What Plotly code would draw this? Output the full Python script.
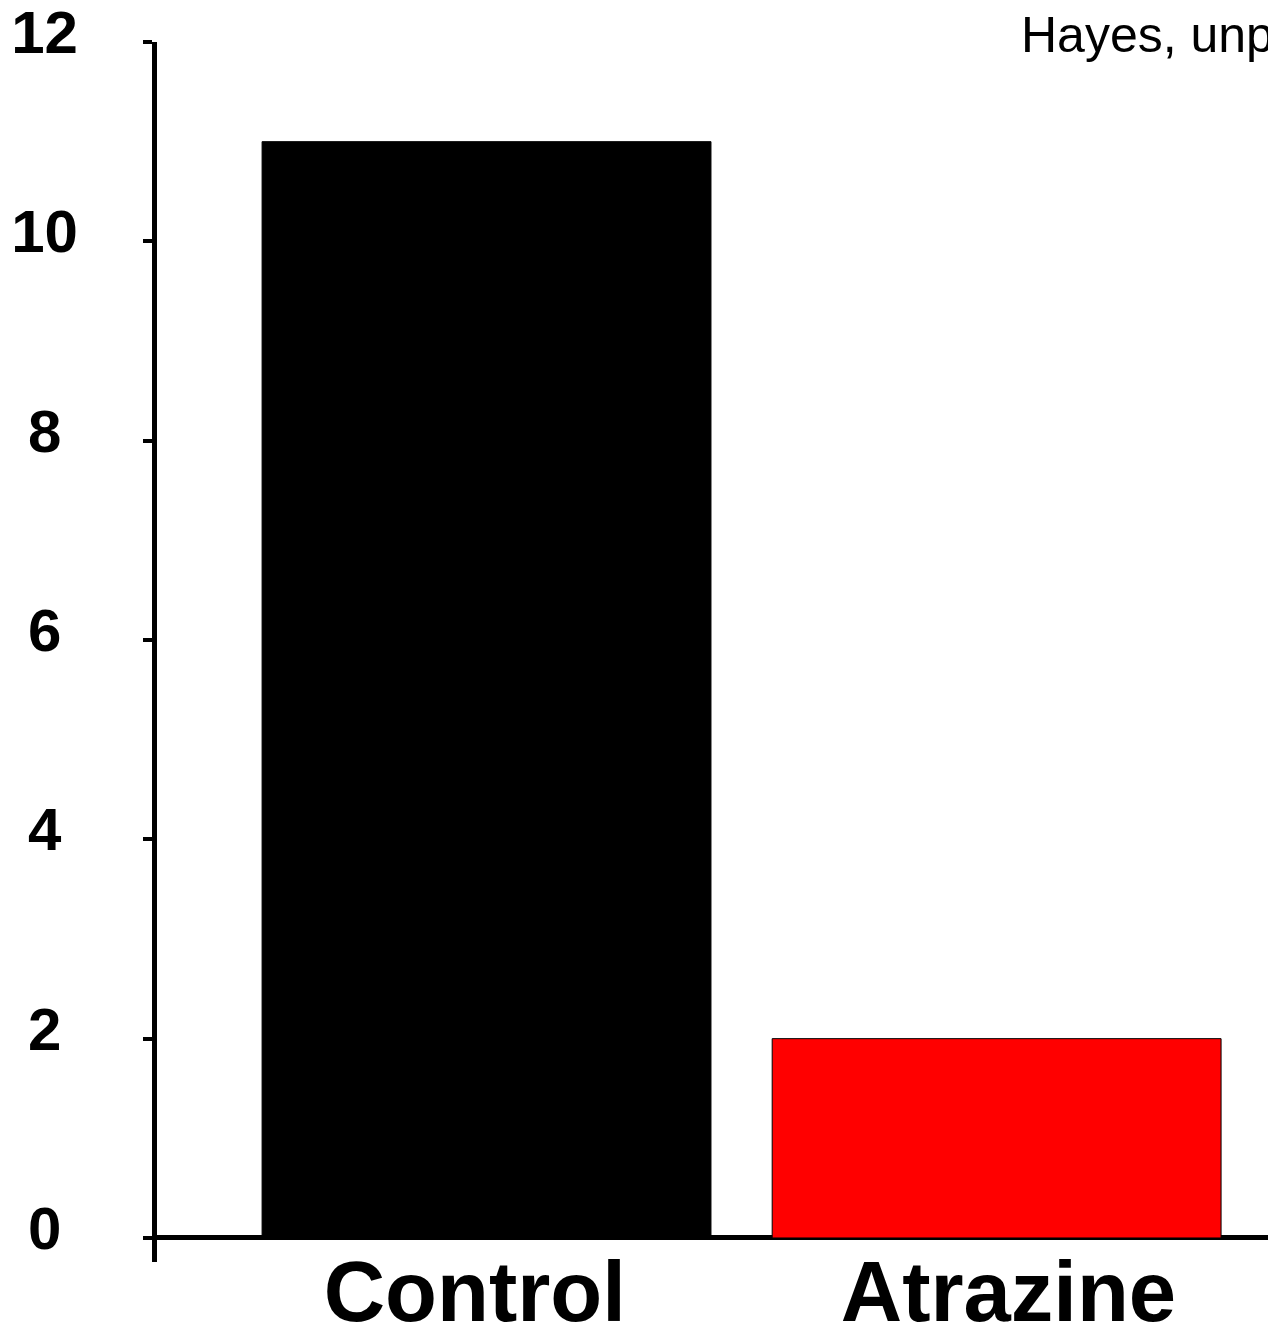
import plotly.graph_objects as go

# data
groups = ['Control', 'Atrazine']
values = [11.0, 2.0]
bar_colors = ['#000000', '#ff0000']
y_ticks = [0, 2, 4, 6, 8, 10, 12]
# single digits get a trailing punctuation space so they sit centred like the original
y_tick_text = [str(t) if t >= 10 else str(t) + '\u2008' for t in y_ticks]
# the original's category labels sit a little off the bar centres
x_tick_text = ['Control\u2008', '\u2008Atrazine']

FONT = 'Liberation Sans, Arial, Helvetica, sans-serif'

fig = go.Figure()

fig.add_trace(go.Bar(
    x=groups,
    y=values,
    marker=dict(color=bar_colors, line=dict(color='#000000', width=1)),
    width=0.88,
    showlegend=False,
    hoverinfo='skip',
))

fig.add_annotation(
    text='Hayes, unpublished',
    xref='paper', yref='paper',
    x=0.7755, y=1.030,
    xanchor='left', yanchor='top',
    showarrow=False,
    font=dict(family=FONT, size=50, color='#000000'),
)

fig.update_layout(
    width=1268,
    height=1330,
    paper_bgcolor='#ffffff',
    plot_bgcolor='#ffffff',
    margin=dict(l=157, r=0, t=42, b=68, pad=0),
    font=dict(family=FONT, color='#000000'),
    xaxis=dict(
        type='category',
        range=[-0.646, 1.532],
        anchor='free',
        position=0.0222,  # category labels hang from the y=0 line
        tickvals=groups,
        ticktext=x_tick_text,
        showgrid=False,
        showline=False,
        zeroline=False,
        ticks='',
        automargin=False,
        tickfont=dict(family=FONT, size=85, weight='bold', color='#000000'),
        ticklabelstandoff=0,
    ),
    yaxis=dict(
        range=[-0.241, 12],
        tickvals=y_ticks,
        ticktext=y_tick_text,
        showgrid=False,
        showline=True,
        linecolor='#000000',
        linewidth=5,
        ticks='outside',
        ticklen=9,
        tickwidth=4,
        tickcolor='#000000',
        zeroline=True,
        zerolinecolor='#000000',
        zerolinewidth=5,
        automargin=False,
        tickfont=dict(family=FONT, size=60, weight='bold', color='#000000'),
        ticklabelstandoff=53,
        ticklabelshift=-10,
        ticklabeloverflow='allow',
    ),
)

# drop the page's default body margin so the figure fills the window exactly
fig.write_html(
    'out.html',
    config={'displayModeBar': False},
    post_script="document.body.style.margin='0';document.body.style.overflow='hidden';",
)
